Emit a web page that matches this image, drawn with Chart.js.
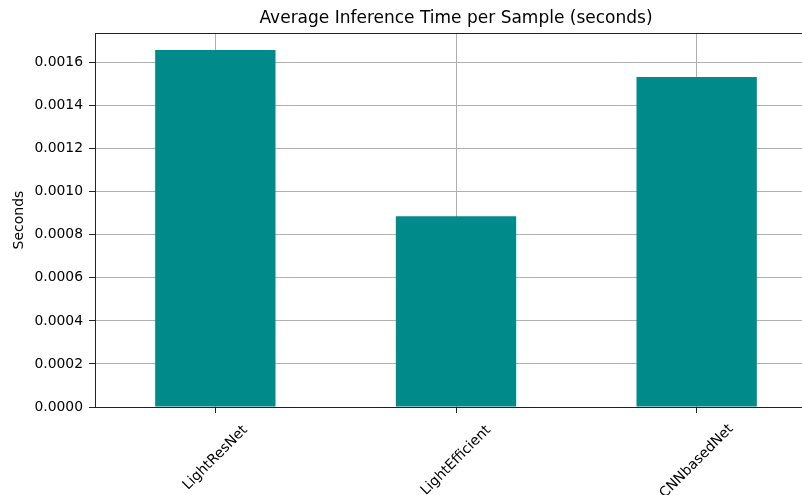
<!DOCTYPE html>
<html>
<head>
<meta charset="utf-8">
<script src="https://cdn.jsdelivr.net/npm/chart.js@4.4.1/dist/chart.umd.min.js"></script>
<style>
  html, body { margin: 0; padding: 0; background: #fff; overflow: hidden; }
  #wrap { width: 817px; height: 495px; }
</style>
</head>
<body>
<div id="wrap"><canvas id="inferenceChart" width="817" height="495"></canvas></div>
<script>
const models = ["LightResNet", "LightEfficient", "CNNbasedNet"];
const avgSeconds = [0.001659, 0.000886, 0.001533];
const yStep = 0.0002;
const yMax = 0.001738;
const chartTitle = "Average Inference Time per Sample (seconds)";

const FONT = "'DejaVu Sans', sans-serif";
const AXIS_COLOR = "#222";
const GRID_COLOR = "#b0b0b0";

// frame, title and x labels drawn the matplotlib way
const mplPlugin = {
    id: "mplLook",
    afterDraw(chart) {
        const a = chart.chartArea;
        const ctx = chart.ctx;
        ctx.save();
        ctx.strokeStyle = AXIS_COLOR;
        ctx.lineWidth = 1;
        ctx.strokeRect(Math.round(a.left) + 0.5, Math.round(a.top) + 0.5,
            Math.round(a.right - a.left), Math.round(a.bottom - a.top));

        // title centred over the plot area
        ctx.fillStyle = "#000";
        ctx.font = "17px " + FONT;
        ctx.textAlign = "center";
        ctx.textBaseline = "alphabetic";
        ctx.fillText(chartTitle, (a.left + a.right) / 2, 23);

        // rotated x labels, bounding box centred on the tick
        const xScale = chart.scales.x;
        ctx.font = "14px " + FONT;
        ctx.textBaseline = "middle";
        const top = a.bottom + 16;
        models.forEach((label, i) => {
            const x = xScale.getPixelForTick(i);
            const m = ctx.measureText(label);
            const h = m.actualBoundingBoxAscent + m.actualBoundingBoxDescent;
            const half = (m.width + h) / (2 * Math.SQRT2);
            ctx.save();
            ctx.translate(x, top + half);
            ctx.rotate(-Math.PI / 4);
            ctx.fillText(label, 0, 0);
            ctx.restore();
        });
        ctx.restore();
    }
};

const ctx = document.getElementById("inferenceChart").getContext("2d");
new Chart(ctx, {
    type: "bar",
    data: {
        labels: models,
        datasets: [{
            data: avgSeconds,
            backgroundColor: "#008b8b",
            barPercentage: 0.5,
            categoryPercentage: 1.0
        }]
    },
    options: {
        responsive: false,
        animation: false,
        layout: { padding: { left: 0, right: 0, top: 33, bottom: 0 } },
        plugins: {
            legend: { display: false },
            tooltip: { enabled: false },
            title: { display: false }
        },
        scales: {
            x: {
                z: 1,
                offset: true,
                grid: {
                    offset: false,
                    color: GRID_COLOR,
                    tickColor: AXIS_COLOR,
                    tickLength: 6
                },
                border: { display: false },
                ticks: {
                    color: "transparent",
                    font: { family: FONT, size: 14 },
                    minRotation: 45,
                    maxRotation: 45
                },
                afterFit(scale) { scale.height = 88; }
            },
            y: {
                z: 1,
                min: 0,
                max: yMax,
                grid: {
                    color: GRID_COLOR,
                    tickColor: AXIS_COLOR,
                    tickLength: 6
                },
                border: { display: false },
                ticks: {
                    stepSize: yStep,
                    color: "#000",
                    font: { family: FONT, size: 13.9 },
                    padding: 6,
                    callback: (v) => v.toFixed(4)
                },
                afterBuildTicks(scale) {
                    scale.ticks = scale.ticks.filter(t => Math.abs(t.value / yStep - Math.round(t.value / yStep)) < 1e-6);
                },
                title: {
                    display: true,
                    text: "Seconds",
                    color: "#000",
                    font: { family: FONT, size: 14 },
                    padding: { top: 11, bottom: 4 }
                },
                afterFit(scale) { scale.width = 95; }
            }
        }
    },
    plugins: [mplPlugin]
});
</script>
</body>
</html>
